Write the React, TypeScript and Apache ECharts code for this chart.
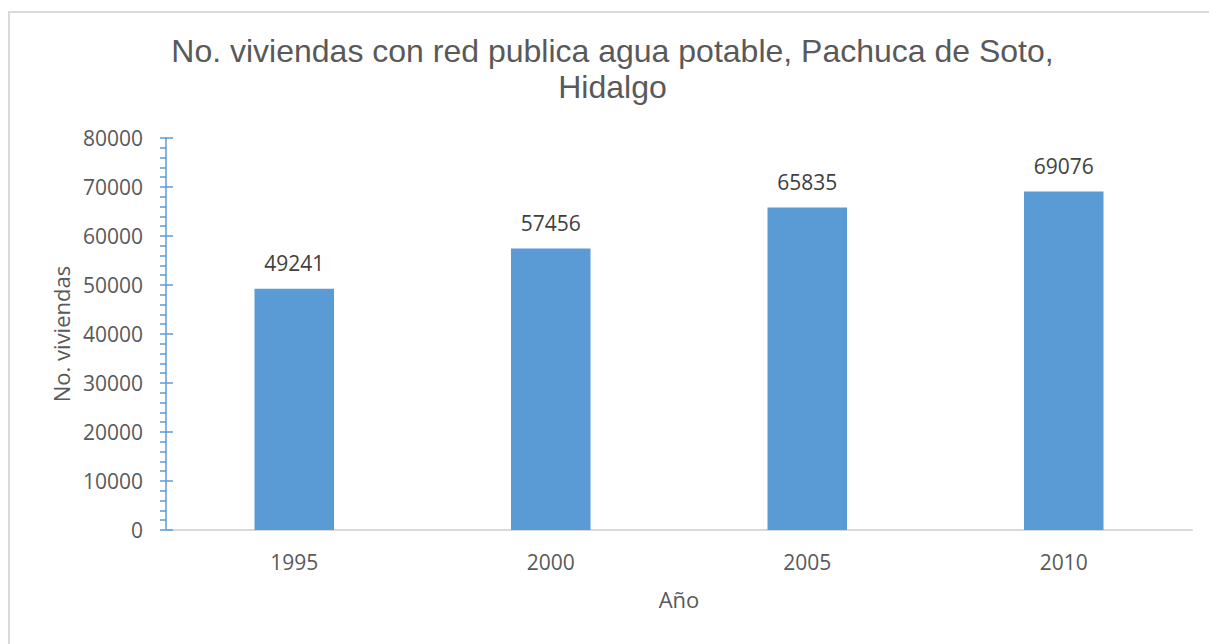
import React, { useEffect, useRef } from "react";
import * as echarts from "echarts";

const years = ["1995", "2000", "2005", "2010"];
const viviendas = [49241, 57456, 65835, 69076];
const titleText = "No. viviendas con red publica agua potable, Pachuca de Soto,\nHidalgo";
const yName = "No. viviendas";
const xName = "Año";

export default function App() {
  const ref = useRef<HTMLDivElement>(null);
  useEffect(() => {
    if (!ref.current) return;
    const chart = echarts.init(ref.current, null, { renderer: "svg" });
    const labelFont = "'Open Sans', sans-serif";
    chart.setOption({
      animation: false,
      backgroundColor: "#ffffff",
      title: {
        text: titleText,
        left: "center",
        top: 20,
        textStyle: {
          fontFamily: "'Liberation Sans', Arial, sans-serif",
          fontSize: 32,
          fontWeight: "normal",
          color: "#595959",
          lineHeight: 36,
        },
      },
      graphic: [
        {
          type: "rect",
          shape: { x: 1, y: 4, width: 1400, height: 800 },
          style: { fill: "none", stroke: "#d9d9d9", lineWidth: 2 },
          silent: true,
        },
      ],
      grid: { left: 158, right: 25, top: 130, bottom: 114 },
      xAxis: {
        type: "category",
        data: years,
        name: xName,
        nameLocation: "middle",
        nameGap: 58,
        nameTextStyle: { fontFamily: labelFont, fontSize: 22, color: "#595959" },
        axisLine: { lineStyle: { color: "#d9d9d9", width: 2 } },
        axisTick: { show: false },
        axisLabel: { margin: 21, fontFamily: labelFont, fontSize: 21, color: "#595959" },
      },
      yAxis: [
        {
          type: "value",
          min: 0,
          max: 80000,
          interval: 10000,
          name: yName,
          nameLocation: "middle",
          nameGap: 93,
          nameRotate: 90,
          nameTextStyle: { fontFamily: labelFont, fontSize: 22, color: "#595959" },
          axisLine: { show: true, lineStyle: { color: "#5b9bd5", width: 1.5 } },
          axisTick: { show: true, length: 6, lineStyle: { color: "#5b9bd5", width: 1.5 } },
          minorTick: { show: true, splitNumber: 5, length: 6, lineStyle: { color: "#5b9bd5", width: 1.5 } },
          splitLine: { show: false },
          axisLabel: {
            margin: 23,
            fontFamily: labelFont,
            fontSize: 21,
            color: "#595959",
            formatter: (v: number) => String(v),
          },
        },
        {
          type: "value",
          position: "left",
          min: 0,
          max: 80000,
          interval: 10000,
          axisLine: { show: false },
          axisTick: { show: true, inside: true, length: 7, lineStyle: { color: "#5b9bd5", width: 1.5 } },
          minorTick: { show: false },
          splitLine: { show: false },
          axisLabel: { show: false },
        },
      ],
      series: [
        {
          type: "bar",
          data: viviendas,
          barWidth: "31%",
          itemStyle: { color: "#5b9bd5" },
          label: {
            show: true,
            position: "top",
            distance: 15,
            fontFamily: labelFont,
            fontSize: 21,
            color: "#404040",
          },
        },
      ],
    });
    return () => chart.dispose();
  }, []);
  return <div ref={ref} style={{ width: 1209, height: 636 }} />;
}
